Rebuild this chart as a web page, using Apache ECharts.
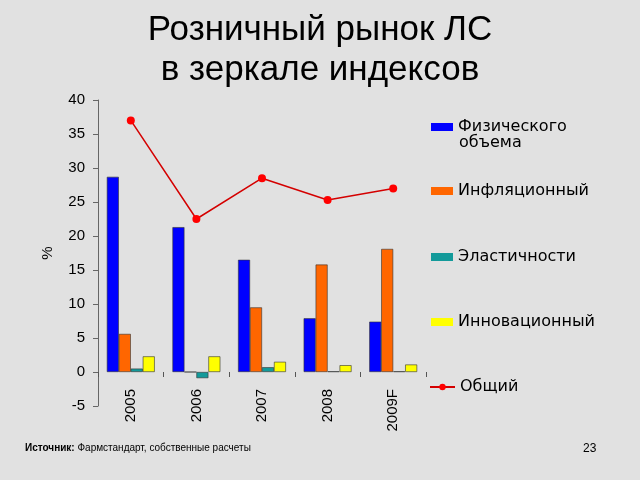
<!DOCTYPE html>
<html>
<head>
<meta charset="utf-8">
<script src="https://cdn.jsdelivr.net/npm/echarts@6/dist/echarts.min.js"></script>
<style>
html,body{margin:0;padding:0;background:#e1e1e1;}
#c{width:640px;height:480px;}
</style>
</head>
<body>
<div id="c"></div>
<script>
const categories = ['2005', '2006', '2007', '2008', '2009F'];
const physical = [28.7, 21.3, 16.5, 7.9, 7.4];
const inflation = [5.6, 0.0, 9.5, 15.8, 18.1];
const elasticity = [0.5, -0.9, 0.7, 0.1, 0.1];
const innovation = [2.3, 2.3, 1.5, 1.0, 1.1];
const total = [37.0, 22.5, 28.5, 25.3, 27.0];
const seriesNames = ['Физического объема', 'Инфляционный', 'Эластичности', 'Инновационный', 'Общий'];
const yTicks = { min: -5, max: 40, interval: 5 };

const FONT = 'Liberation Sans, Arial, sans-serif';
const LFONT = 'DejaVu Sans, Verdana, sans-serif';
const chart = echarts.init(document.getElementById('c'), null, { renderer: 'canvas' });

const barColors = ['#0000ff', '#ff6600', '#139a9a', '#ffff00'];
const barData = [physical, inflation, elasticity, innovation];

const series = barData.map((d, i) => ({
  name: seriesNames[i],
  type: 'bar',
  data: d,
  barGap: '0%',
  barCategoryGap: '27%',
  itemStyle: { color: barColors[i], borderColor: '#333', borderWidth: 0.6 }
}));
series.push({
  name: seriesNames[4],
  type: 'line',
  data: total,
  symbol: 'circle',
  symbolSize: 8,
  lineStyle: { color: '#d40000', width: 1.5 },
  itemStyle: { color: '#ff0000' }
});

const legendTops = [114, 178, 244, 309, 374];
const legends = seriesNames.map((n, i) => ({
  data: i === 4 ? [n] : [{ name: n, icon: 'rect' }],
  left: i === 4 ? 424 : 426,
  top: legendTops[i],
  orient: 'vertical',
  itemWidth: i === 4 ? 25 : 22,
  itemHeight: 8,
  itemGap: 0,
  selectedMode: false,
  formatter: i === 0 ? 'Физического' : n,
  itemStyle: i === 4 ? {} : { borderWidth: 0 },
  textStyle: { fontFamily: LFONT, fontSize: 16, color: '#000' }
}));

chart.setOption({
  backgroundColor: '#e1e1e1',
  animation: false,
  title: [
    {
      text: 'Розничный рынок ЛС\nв зеркале индексов',
      left: 'center',
      top: 5,
      textStyle: { fontFamily: FONT, fontSize: 35, fontWeight: 'normal', color: '#000', lineHeight: 40 }
    },
    {
      text: '{b|Источник:} Фармстандарт, собственные расчеты',
      left: 20,
      top: 438,
      textStyle: {
        fontFamily: FONT, fontSize: 10, fontWeight: 'normal', color: '#000',
        rich: { b: { fontFamily: FONT, fontSize: 10, fontWeight: 'bold', color: '#000' } }
      }
    },
    {
      text: '23',
      left: 578,
      top: 438,
      textStyle: { fontFamily: FONT, fontSize: 12, fontWeight: 'normal', color: '#000' }
    }
  ],
  legend: legends,
  graphic: [
    {
      type: 'text',
      left: 459,
      top: 135,
      style: { text: 'объема', font: '16px DejaVu Sans, Verdana, sans-serif', fill: '#000' }
    }
  ],
  grid: { left: 98, right: 214, top: 100, bottom: 74, containLabel: false },
  xAxis: {
    type: 'category',
    data: categories,
    axisLine: { show: false, onZero: true },
    axisTick: { show: true, length: 5, lineStyle: { color: '#555' } },
    axisLabel: { rotate: 90, margin: -17, fontFamily: FONT, fontSize: 15, color: '#000' },
    splitLine: { show: false }
  },
  yAxis: {
    type: 'value',
    min: yTicks.min,
    max: yTicks.max,
    interval: yTicks.interval,
    name: '%',
    nameLocation: 'middle',
    nameRotate: 90,
    nameGap: 43,
    nameTextStyle: { fontFamily: FONT, fontSize: 15, color: '#000' },
    axisLine: { show: true, lineStyle: { color: '#666', width: 1 } },
    axisTick: { show: true, length: 5, lineStyle: { color: '#666' } },
    axisLabel: { margin: 13, fontFamily: FONT, fontSize: 15, color: '#000' },
    splitLine: { show: false }
  },
  series: series
});
</script>
</body>
</html>
